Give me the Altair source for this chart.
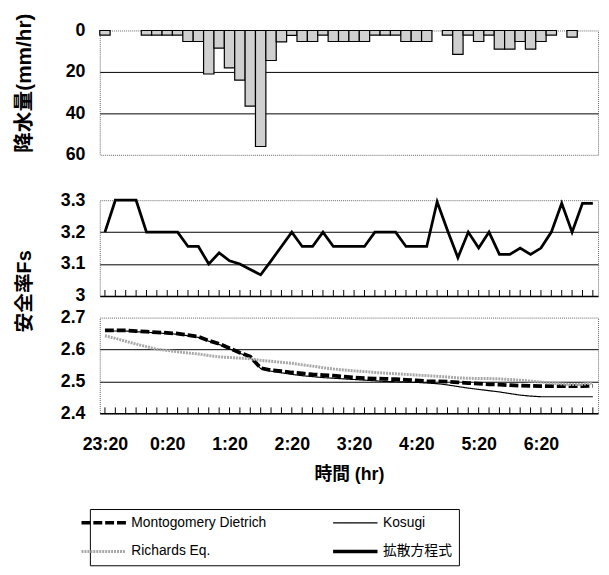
import altair as alt
import pandas as pd

# ---------------- data ----------------
times = list(range(0, 480, 10))  # minutes after 23:20 (10-minute steps)
hour_ticks = [0, 60, 120, 180, 240, 300, 360, 420]
hour_labels = ["23:20", "0:20", "1:20", "2:20", "3:20", "4:20", "5:20", "6:20"]

rain = [2.2, 0, 0, 0, 2.2, 2.2, 2.2, 2.2, 5.3, 5.3,
        21, 8.5, 18, 24, 36.5, 56, 14.5, 5.5, 2.4, 5.3,
        5.3, 2.2, 5.3, 5.3, 5.3, 5.3, 2.2, 2.2, 2.2, 5.3,
        5.3, 5.3, 0, 2.2, 11.5, 2.2, 5.3, 2.2, 9, 9,
        5.3, 9, 5.3, 2.2, 0, 3.2, 0, 0]

fs_diffusion = [3.2, 3.3, 3.3, 3.3, 3.2, 3.2, 3.2, 3.2, 3.155, 3.155,
                3.1, 3.135, 3.11, 3.1, 3.083, 3.066, 3.11, 3.155, 3.2, 3.155,
                3.155, 3.2, 3.155, 3.155, 3.155, 3.155, 3.2, 3.2, 3.2, 3.155,
                3.155, 3.155, 3.295, 3.205, 3.12, 3.2, 3.15, 3.2, 3.13, 3.13,
                3.15, 3.13, 3.15, 3.2, 3.29, 3.2, 3.29, 3.29]

fs_md = [2.66, 2.66, 2.66, 2.658, 2.656, 2.654, 2.652, 2.65, 2.645, 2.64,
         2.628, 2.618, 2.604, 2.59, 2.578, 2.542, 2.535, 2.532, 2.528, 2.525,
         2.522, 2.52, 2.518, 2.515, 2.512, 2.51, 2.509, 2.508, 2.507, 2.505,
         2.503, 2.501, 2.5, 2.499, 2.497, 2.495, 2.493, 2.491, 2.49, 2.488,
         2.487, 2.486, 2.485, 2.485, 2.485, 2.485, 2.485, 2.486]

fs_kosugi = [2.658, 2.658, 2.658, 2.656, 2.654, 2.652, 2.65, 2.648, 2.643, 2.638,
             2.626, 2.616, 2.602, 2.588, 2.576, 2.54, 2.532, 2.527, 2.522, 2.518,
             2.515, 2.512, 2.51, 2.508, 2.506, 2.504, 2.502, 2.5, 2.499, 2.498,
             2.497, 2.495, 2.493, 2.489, 2.484, 2.479, 2.475, 2.471, 2.467, 2.462,
             2.457, 2.454, 2.452, 2.452, 2.452, 2.452, 2.452, 2.452]

fs_richards = [2.643, 2.635, 2.626, 2.617, 2.609, 2.601, 2.597, 2.593, 2.589, 2.586,
               2.581, 2.577, 2.575, 2.573, 2.571, 2.566, 2.563, 2.56, 2.557, 2.552,
               2.548, 2.543, 2.539, 2.536, 2.533, 2.531, 2.528, 2.526, 2.524, 2.522,
               2.52, 2.518, 2.516, 2.514, 2.511, 2.51, 2.509, 2.509, 2.508, 2.506,
               2.504, 2.501, 2.498, 2.495, 2.492, 2.49, 2.491, 2.496]

# legend order (filled column by column): col 1 = MD, Richards ; col 2 = Kosugi, 拡散方程式
series_names = ["Montogomery Dietrich", "Richards Eq.", "Kosugi", "拡散方程式"]
series_colors = ["black", "#a8a8a8", "black", "black"]
series_dash = [[9, 3], [2, 1], [1, 0], [1, 0]]

# ---------------- styling ----------------
FONT = "Liberation Sans, Arial, Noto Sans CJK JP, sans-serif"
W = 505
X_DOMAIN = [-5, 475]


def xscale():
    return alt.Scale(domain=X_DOMAIN, nice=False, zero=False)


def yaxis(values, title, fmt, hide_test, title_y, **kw):
    return alt.Axis(
        values=values, format=fmt, title=title,
        labelFont=FONT, labelFontSize=18, labelFontWeight="bold", labelColor="black",
        labelPadding=15, ticks=False, domain=False,
        grid=True, gridColor={"condition": {"test": hide_test, "value": "transparent"},
                              "value": "black"},
        gridWidth=1,
        titleFont=FONT, titleFontWeight="bold", titleColor="black",
        titleAngle=270, titleAlign="center", titleBaseline="middle",
        titleX=-76, titleY=title_y, **kw)


# ---------------- top: rainfall ----------------
rain_df = pd.DataFrame({"t": times, "rain": rain})
top = alt.Chart(rain_df).transform_filter("datum.rain > 0").transform_calculate(
    t0="datum.t - 5", t1="datum.t + 5"
).mark_bar(fill="#d0d0d0", stroke="black", strokeWidth=1.2).encode(
    x=alt.X("t0:Q", scale=xscale(), axis=None),
    x2="t1:Q",
    y=alt.Y("rain:Q", scale=alt.Scale(domain=[0, 60], reverse=True, nice=False),
            axis=yaxis([0, 20, 40, 60], "降水量(mm/hr)", "d",
                       "datum.value <= 0 || datum.value >= 60", 53, titleFontSize=21)),
    y2=alt.datum(0),
).properties(width=W, height=126)

# ---------------- middle: 拡散方程式 ----------------
mid_df = pd.DataFrame({"t": times, "fs": fs_diffusion})
tick_df = pd.DataFrame({"t": times})

mid_line = alt.Chart(mid_df).mark_line(color="black", strokeWidth=2.8).encode(
    x=alt.X("t:Q", scale=xscale(),
            axis=alt.Axis(labels=False, ticks=False, title=None, grid=False,
                          domain=True, domainColor="black", domainWidth=1.5)),
    y=alt.Y("fs:Q", scale=alt.Scale(domain=[3.0, 3.3], nice=False, zero=False),
            axis=yaxis([3.0, 3.1, 3.2, 3.3], "安全率Fs", "~g",
                       "datum.value <= 3.001 || datum.value >= 3.299", 92, titleFontSize=20)),
)
mid_ticks = alt.Chart(tick_df).mark_rule(color="black", strokeWidth=1).encode(
    x=alt.X("t:Q", scale=xscale()), y=alt.value(97), y2=alt.value(91))
mid = alt.layer(mid_ticks, mid_line).properties(width=W, height=97)

# ---------------- bottom: three models ----------------
rows = []
for name, vals in [("Kosugi", fs_kosugi), ("Montogomery Dietrich", fs_md),
                   ("Richards Eq.", fs_richards)]:
    for t, v in zip(times, vals):
        rows.append({"t": t, "series": name, "fs": v})
bot_df = pd.DataFrame(rows)

width_expr = ("datum.series === 'Kosugi' ? 1.2 : "
              "(datum.series === 'Richards Eq.' ? 3 : 3.8)")
legend = alt.Legend(
    title=None, orient="none", legendX=-10, legendY=485, columns=2,
    symbolType="stroke", symbolSize=2025,
    symbolStrokeWidth={"expr": "datum.value === 'Kosugi' ? 1.2 : "
                               "(datum.value === 'Richards Eq.' ? 3 : 3.5)"},
    labelFont=FONT, labelFontSize=14, labelColor="black", labelLimit=500,
    labelOffset=21, strokeColor="black", fillColor="white", padding=7,
    rowPadding=15, columnPadding=60)

bot_line = alt.Chart(bot_df).transform_calculate(w=width_expr).mark_line().encode(
    x=alt.X("t:Q", scale=xscale(),
            axis=alt.Axis(values=hour_ticks,
                          labelExpr="[" + ",".join("'%s'" % s for s in hour_labels)
                                    + "][round(datum.value / 60)]",
                          labelFont=FONT, labelFontSize=18, labelFontWeight="bold",
                          labelColor="black", labelPadding=23, labelFlush=False,
                          labelOverlap=False, ticks=False, grid=False,
                          domain=True, domainColor="black", domainWidth=1.5,
                          title="時間 (hr)", titleFont=FONT, titleFontSize=18,
                          titleFontWeight="bold", titleColor="black", titlePadding=12)),
    y=alt.Y("fs:Q", scale=alt.Scale(domain=[2.4, 2.7], nice=False, zero=False),
            axis=yaxis([2.4, 2.5, 2.6, 2.7], None, ".1f",
                       "datum.value <= 2.401 || datum.value >= 2.699", 48)),
    color=alt.Color("series:N", scale=alt.Scale(domain=series_names, range=series_colors),
                    legend=legend),
    strokeDash=alt.StrokeDash("series:N",
                              scale=alt.Scale(domain=series_names, range=series_dash),
                              legend=legend),
    strokeWidth=alt.StrokeWidth("w:Q", scale=None),
)
bot_ticks = alt.Chart(tick_df).mark_rule(color="black", strokeWidth=1).encode(
    x=alt.X("t:Q", scale=xscale()), y=alt.value(97), y2=alt.value(91))
bot = alt.layer(bot_ticks, bot_line).properties(width=W, height=97)

inner = alt.vconcat(mid, bot, spacing=22, bounds="flush")
chart = alt.vconcat(top, inner, spacing=46, bounds="flush").properties(
    padding={"left": 5, "top": 0, "right": 0, "bottom": 0}
).configure_view(stroke="#666", strokeDash=[1, 1], strokeWidth=1)

chart.save("out.html", embed_options={"renderer": "svg", "actions": False})
